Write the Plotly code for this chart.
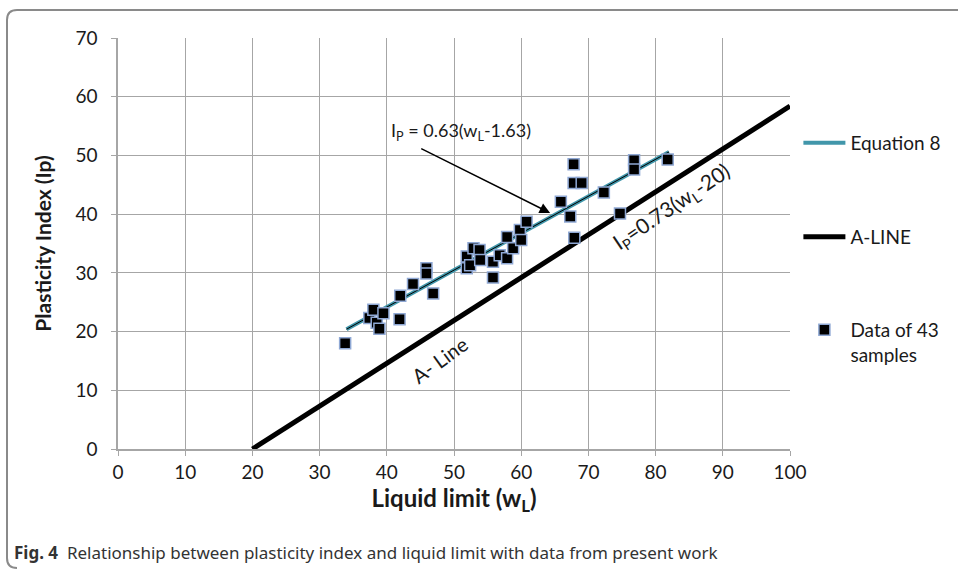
import plotly.graph_objects as go

# ---- data ----
wl = [33.8, 37.4, 38.0, 38.5, 39.5, 38.9, 41.9, 42.0, 43.9, 45.9, 45.9, 46.9,
      51.9, 51.9, 52.9, 53.8, 52.4, 53.9, 55.8, 55.8, 56.8, 57.9, 57.9, 58.8,
      59.8, 60.0, 60.8, 65.9, 67.3, 67.9, 67.8, 67.8, 69.0, 72.3, 74.7, 76.8,
      76.8, 81.8]
ip = [18.0, 22.3, 23.7, 21.5, 23.1, 20.5, 22.1, 26.1, 28.1, 30.8, 29.9, 26.5,
      32.8, 30.8, 34.2, 33.9, 31.3, 32.2, 31.9, 29.2, 33.0, 32.5, 36.1, 34.2,
      37.3, 35.6, 38.7, 42.1, 39.6, 36.0, 48.5, 45.3, 45.3, 43.7, 40.1, 49.2,
      47.6, 49.3]
eq8_x = [34, 82]
eq8_y = [20.4, 50.6]
aline_x = [20, 100]
aline_y = [0, 58.4]
x_ticks = [0, 10, 20, 30, 40, 50, 60, 70, 80, 90, 100]
y_ticks = [0, 10, 20, 30, 40, 50, 60, 70]

FONT = "Lato"
TEAL = "#4196AA"
TXT = "#1a1a1a"

fig = go.Figure()
fig.add_trace(go.Scatter(x=eq8_x, y=eq8_y, mode="lines", name="Equation 8",
                         line=dict(color=TEAL, width=4), legend="legend"))
fig.add_trace(go.Scatter(x=eq8_x, y=eq8_y, mode="lines", showlegend=False,
                         line=dict(color="black", width=1), hoverinfo="skip"))
fig.add_trace(go.Scatter(x=aline_x, y=aline_y, mode="lines", name="A-LINE",
                         line=dict(color="black", width=5), legend="legend2"))
fig.add_trace(go.Scatter(x=wl, y=ip, mode="markers", name="Data of 43<br>samples",
                         marker=dict(symbol="square", size=11, color="black",
                                     line=dict(color="#8FA8D4", width=1.5)),
                         legend="legend3"))

def leg(y, valign="middle", yanchor="middle"):
    return dict(font=dict(family=FONT, size=19, color=TXT),
                bgcolor="rgba(0,0,0,0)", xanchor="left", yanchor=yanchor,
                x=1.0125, y=y, itemwidth=42, valign=valign)

fig.update_layout(
    width=958, height=571,
    margin=dict(l=118, r=168, t=38, b=122),
    paper_bgcolor="white", plot_bgcolor="white",
    font=dict(family=FONT, size=17, color=TXT),
    legend=leg((449 - 143) / 411),
    legend2=leg((449 - 237) / 411),
    legend3=leg((449 - 311) / 411, valign="top", yanchor="top"),
    xaxis=dict(range=[0, 100], tickvals=x_ticks, showgrid=True, gridcolor="#A6A6A6",
               gridwidth=1, showline=True, linecolor="#A6A6A6", linewidth=1.5,
               ticks="outside", ticklen=5, tickcolor="#A6A6A6", zeroline=False,
               tickfont=dict(size=19, family=FONT, color=TXT),
               title=dict(text="<b>Liquid limit (w<sub>L</sub>)</b>",
                          font=dict(size=24, family=FONT, color=TXT), standoff=0)),
    yaxis=dict(range=[0, 70], tickvals=y_ticks, showgrid=True, gridcolor="#A6A6A6",
               gridwidth=1, showline=True, linecolor="#A6A6A6", linewidth=1.5,
               ticks="outside", ticklen=5, tickcolor="#A6A6A6", zeroline=False,
               ticklabelstandoff=10,
               tickfont=dict(size=19, family=FONT, color=TXT),
               title=dict(text="<b>Plasticity Index (Ip)</b>",
                          font=dict(size=21, family=FONT, color=TXT), standoff=18)),
)

# Equation 8 annotation with arrow
fig.add_annotation(x=64.3, y=40.2, ax=44.9, ay=51.3, axref="x", ayref="y",
                   xref="x", yref="y", showarrow=True, arrowhead=2, arrowsize=1.4,
                   arrowwidth=1.5, arrowcolor="black", text="")
fig.add_annotation(x=51.0, y=54.0, xref="x", yref="y", showarrow=False,
                   text="I<sub>P</sub> = 0.63(w<sub>L</sub>-1.63)",
                   font=dict(size=18, family=FONT, color=TXT))
# A-line equation
fig.add_annotation(x=82.4, y=41.2, xref="x", yref="y", showarrow=False, textangle=-34,
                   text="I<sub>P</sub>=0.73(w<sub>L</sub>-20)",
                   font=dict(size=21, family=FONT, color=TXT))
fig.add_annotation(x=47.8, y=15.2, xref="x", yref="y", showarrow=False, textangle=-36,
                   text="A- Line", font=dict(size=20, family=FONT, color=TXT))

# caption
fig.add_annotation(x=-0.158, y=(449 - 552) / 411, xref="paper", yref="paper",
                   xanchor="left", yanchor="middle", showarrow=False,
                   text="<b>Fig. 4</b>  Relationship between plasticity index and liquid limit with data from present work",
                   font=dict(size=17, family="Noto Sans", color="#333"))

# figure frame (rounded corners)
x0 = (7 - 118) / 672
x1 = (960 - 118) / 672
yt = (449 - 10) / 411
yb = (449 - 568) / 411
rx = 10 / 672
ry = 10 / 411
fig.add_shape(type="path", xref="paper", yref="paper",
              path=f"M {x1},{yt} L {x0 + rx},{yt} Q {x0},{yt} {x0},{yt - ry} "
                   f"L {x0},{yb + ry} Q {x0},{yb} {x0 + rx},{yb}",
              line=dict(color="#8A8A8A", width=2))

fig.write_html("out.html")
